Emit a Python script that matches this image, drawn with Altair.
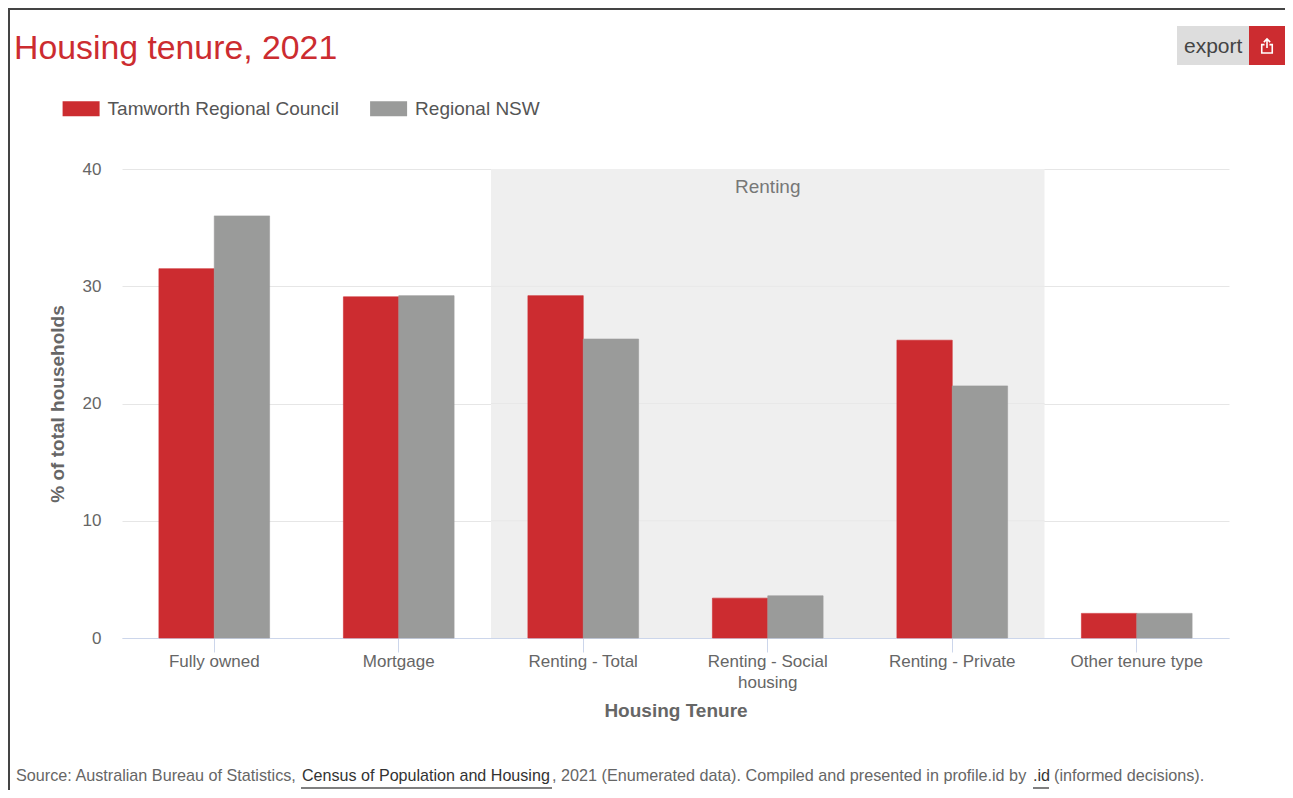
import altair as alt
import pandas as pd

categories = ["Fully owned", "Mortgage", "Renting - Total", "Renting - Social housing", "Renting - Private", "Other tenure type"]
tamworth = [31.5, 29.1, 29.2, 3.4, 25.4, 2.1]
regional = [36.0, 29.2, 25.5, 3.6, 21.5, 2.1]
series = ["Tamworth Regional Council", "Regional NSW"]
colors = ["#cc2c30", "#9a9b9a"]
renting_span = [2, 5]
band_grid = [10, 20, 30]

FONT = "Liberation Sans"
W, H = 1107, 469
L, T = 114, 161
R, B = 1277 - L - W, 782 - T - H

rows = []
for c, a, b in zip(categories, tamworth, regional):
    rows.append({"cat": c, "series": series[0], "value": a})
    rows.append({"cat": c, "series": series[1], "value": b})
df = pd.DataFrame(rows)

label_expr = "datum.value == 'Renting - Social housing' ? ['Renting - Social', 'housing'] : datum.value"

yaxis = alt.Axis(
    values=[0, 10, 20, 30, 40], title="% of total households", titleFont=FONT, titleFontSize=19,
    titleFontWeight="bold", titleColor="#666666", titlePadding=15,
    labelFont=FONT, labelFontSize=17, labelColor="#666666", labelPadding=21,
    domain=False, ticks=False, grid=True, gridColor="#e6e6e6", gridWidth=1,
)
xaxis = alt.Axis(
    title="Housing Tenure", titleFont=FONT, titleFontSize=19, titleFontWeight="bold",
    titleColor="#666666", titlePadding=11,
    labelFont=FONT, labelFontSize=17, labelColor="#666666", labelAngle=0, labelPadding=1,
    labelExpr=label_expr, labelLineHeight=21, labelLimit=200,
    domainColor="#ccd6eb", domainWidth=1, tickColor="#ccd6eb", tickSize=14, tickWidth=1, grid=False,
)
yscale = alt.Scale(domain=[0, 40], nice=False)
band_x = alt.Scale(domain=[0, 6], nice=False, zero=False)

band = alt.Chart(pd.DataFrame({"a": [renting_span[0]], "b": [renting_span[1]]})).mark_rect(color="#efefef").encode(
    x=alt.X("a:Q", scale=band_x, axis=None),
    x2="b:Q",
)
band_lines = alt.Chart(pd.DataFrame({"value": band_grid, "a": renting_span[0], "b": renting_span[1]})).mark_rule(
    color="#e8e8e8", strokeWidth=1
).encode(
    x=alt.X("a:Q", scale=band_x, axis=None),
    x2="b:Q",
    y=alt.Y("value:Q", axis=yaxis, scale=yscale),
)
renting_label = alt.Chart(pd.DataFrame({"a": [3.5], "t": ["Renting"]})).mark_text(
    font=FONT, fontSize=19, color="#777777", baseline="middle"
).encode(
    x=alt.X("a:Q", scale=band_x, axis=None),
    y=alt.value(18),
    text="t:N",
)

legend = alt.Legend(
    orient="none", legendX=54.6 - L, legendY=82 - T, direction="horizontal", title=None,
    symbolType="M-1,-0.4H1V0.4H-1Z", symbolSize=1369, symbolStrokeWidth=0, symbolOpacity=1,
    labelFont=FONT, labelFontSize=19, labelColor="#555555", labelOffset=8, labelLimit=300,
    columnPadding=30.5,
)
bars = alt.Chart(df).mark_bar(strokeWidth=0.6).encode(
    x=alt.X("cat:N", sort=categories, axis=xaxis,
            scale=alt.Scale(paddingInner=0.4, paddingOuter=0.2)),
    xOffset=alt.XOffset("series:N", sort=series),
    y=alt.Y("value:Q", axis=yaxis, scale=yscale),
    color=alt.Color("series:N", sort=series, scale=alt.Scale(domain=series, range=colors), legend=legend),
    stroke=alt.Stroke("series:N", sort=series, scale=alt.Scale(domain=series, range=colors), legend=None),
)


def txt(text, x, y, size, color, align="left", weight="normal"):
    return alt.Chart(pd.DataFrame({"t": [text]})).mark_text(
        font=FONT, fontSize=size, color=color, align=align, baseline="middle", fontWeight=weight
    ).encode(x=alt.value(x - L - 8), y=alt.value(y - T - 8), text="t:N")


def box(x0, x1, y0, y1, fill):
    return alt.Chart(pd.DataFrame({"a": [0]})).mark_rect(fill=fill).encode(
        x=alt.value(x0 - L - 8), x2=alt.value(x1 - L - 8),
        y=alt.value(y0 - T - 8), y2=alt.value(y1 - T - 8),
    )


def hline(x0, x1, y, color, w):
    return alt.Chart(pd.DataFrame({"a": [0]})).mark_rule(color=color, strokeWidth=w).encode(
        x=alt.value(x0 - L - 8), x2=alt.value(x1 - L - 8), y=alt.value(y - T - 8),
    )


share_icon = alt.Chart(pd.DataFrame({"a": [0]})).mark_point(
    shape="M0,-1L0,0.3M-0.45,-0.55L0,-1L0.45,-0.55M-0.35,-0.2H-0.75V1H0.75V-0.2H0.35",
    filled=False, stroke="#ffffff", strokeWidth=1.6, size=196, opacity=1,
).encode(x=alt.value(1267 - L - 8), y=alt.value(46 - T - 8))

src_color = "#666666"
decor = [
    txt("Housing tenure, 2021", 14, 49, 33.8, "#cc2c30"),
    box(1177, 1249, 26, 65, "#dddddd"),
    box(1249, 1285, 26, 65, "#cc2c30"),
    txt("export", 1184, 46.5, 21, "#444444"),
    share_icon,
    txt("Source: Australian Bureau of Statistics,", 16, 776, 16.2, src_color),
    txt("Census of Population and Housing", 302, 776, 16.1, "#333333"),
    txt(", 2021 (Enumerated data). Compiled and presented in profile.id by", 552, 776, 16.2, src_color),
    txt(".id", 1033, 776, 16.2, "#333333"),
    txt("(informed decisions).", 1054, 776, 16.2, src_color),
    hline(301, 552, 788, "#555555", 1.5),
    hline(1033, 1049, 788, "#555555", 1.5),
    hline(8, 1293, 9, "#444444", 2),
    alt.Chart(pd.DataFrame({"a": [0]})).mark_rule(color="#444444", strokeWidth=2).encode(
        x=alt.value(-L + 1), y=alt.value(-T), y2=alt.value(H + B)
    ),
]

chart = alt.layer(
    band, band_lines, renting_label,
    bars,
    *decor,
).resolve_scale(x="independent").properties(
    width=W, height=H,
    padding={"left": L, "top": T, "right": R, "bottom": B},
    autosize=alt.AutoSizeParams(type="none"),
).configure_view(stroke=None).configure_axis(labelOverlap=False)

chart.save("out.html", embed_options={"renderer": "svg", "actions": False})
